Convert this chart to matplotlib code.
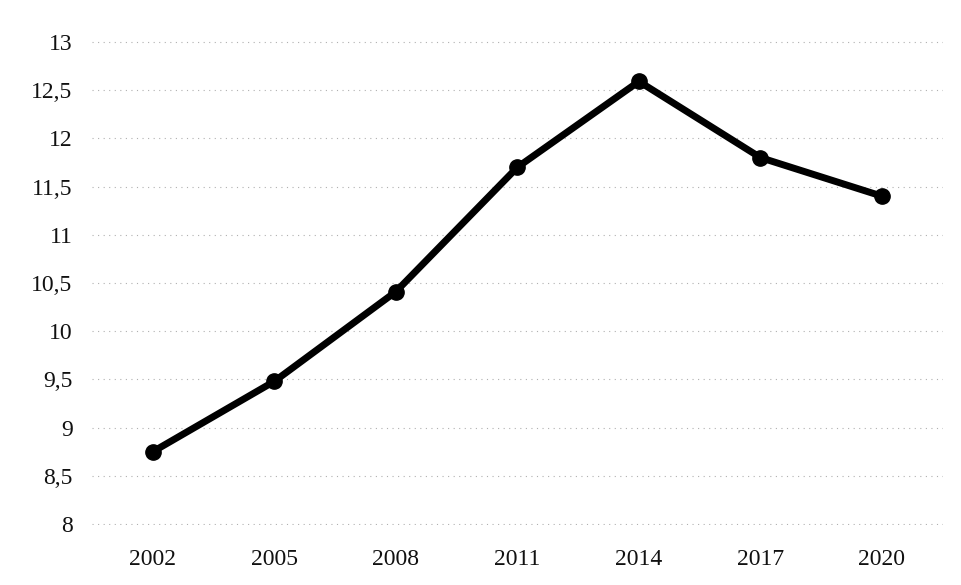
import matplotlib
matplotlib.use("Agg")
import matplotlib.pyplot as plt
from matplotlib.ticker import FuncFormatter

years = ["2002", "2005", "2008", "2011", "2014", "2017", "2020"]
values = [8.75, 9.48, 10.41, 11.70, 12.59, 11.80, 11.40]
yticks = [8, 8.5, 9, 9.5, 10, 10.5, 11, 11.5, 12, 12.5, 13]

plt.rcParams['font.family'] = ['Liberation Serif', 'DejaVu Serif']

fig = plt.figure(figsize=(9.62, 5.85), dpi=100)
ax = fig.add_axes([0.0957, 0.1026, 0.8843, 0.8274])

x = list(range(len(years)))
ax.plot(x, values, color='black', linewidth=5, marker='o', markersize=11,
        solid_capstyle='round', zorder=3)

ax.set_xlim(-0.5, len(years) - 0.5)
ax.set_ylim(7.99, 13.01)
ax.set_yticks(yticks)
ax.yaxis.set_major_formatter(FuncFormatter(lambda v, p: (f"{v:g}").replace('.', ',')))
ax.set_xticks(x)
ax.set_xticklabels(years)

ax.grid(axis='y', color='#b0b0b0', linestyle=(0, (1, 4)), linewidth=0.8)
for s in ax.spines.values():
    s.set_visible(False)
ax.tick_params(axis='both', length=0, labelsize=17, colors='#111111')
ax.tick_params(axis='y', pad=14)
ax.tick_params(axis='x', pad=17)

fig.savefig("out.png", dpi=100, facecolor='white')
